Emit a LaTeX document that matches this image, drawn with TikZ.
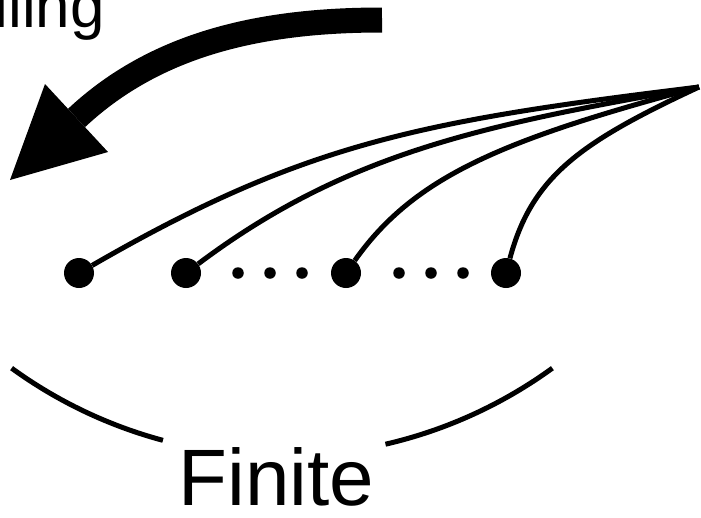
\documentclass[tikz,border=0pt]{standalone}
\usepackage{fontspec}
\setmainfont{Liberation Sans}
\begin{document}
\begin{tikzpicture}[x=1pt,y=-1pt,
  bigdot/.style={circle,fill=black,inner sep=0pt,minimum size=30pt},
  smalldot/.style={circle,fill=black,inner sep=0pt,minimum size=11.5pt},
  link/.style={line width=5pt},
  brace/.style={line width=5pt},
  bigtext/.style={font=\fontsize{80pt}{96pt}\selectfont,inner sep=0pt},
  toptext/.style={font=\fontsize{62pt}{74pt}\selectfont,inner sep=0pt}]
\useasboundingbox (0,0) rectangle (701,517);
\clip (0,0) rectangle (701,517);
% partial label at the top
\node[toptext,anchor=base east] (top) at (105,27) {lling};
% thick curved arrow
\coordinate (ar1) at (382,20);
\coordinate (ar2) at (76.5,118);
\coordinate (tip) at (10,180);
\coordinate (b1) at (45,84);
\coordinate (b2) at (108,152);
\draw[line width=25pt] (ar1) .. controls +(-120,0) and +(80,-75) .. (ar2);
\fill (tip) -- (b1) -- (b2) -- cycle;
% dots
\node[bigdot] (d1) at (79,273) {};
\node[bigdot] (d2) at (186,273) {};
\node[bigdot] (d3) at (346,273) {};
\node[bigdot] (d4) at (506,273) {};
\node[smalldot] (s1) at (238,273) {};
\node[smalldot] (s2) at (270,273) {};
\node[smalldot] (s3) at (302,273) {};
\node[smalldot] (s4) at (399,273) {};
\node[smalldot] (s5) at (431,273) {};
\node[smalldot] (s6) at (463,273) {};
% common source
\coordinate (src) at (699,87);
\draw[link] (d1) .. controls +(225,-130) and +(-278,34) .. (src);
\draw[link] (d2) .. controls +(160,-120) and +(-217,38) .. (src);
\draw[link] (d3) .. controls +(69,-98) and +(-193,52) .. (src);
\draw[link] (d4) .. controls +(26,-97) and +(-118,55) .. (src);
% label and brace arcs
\node[bigtext,anchor=base west] (fin) at (178.5,505) {Finite};
\coordinate (c) at (282,-4);
\draw[brace] (c) ++(126:460) arc[start angle=126,end angle=105,radius=460];
\draw[brace] (c) ++(77:460) arc[start angle=77,end angle=54,radius=460];
\end{tikzpicture}
\end{document}
